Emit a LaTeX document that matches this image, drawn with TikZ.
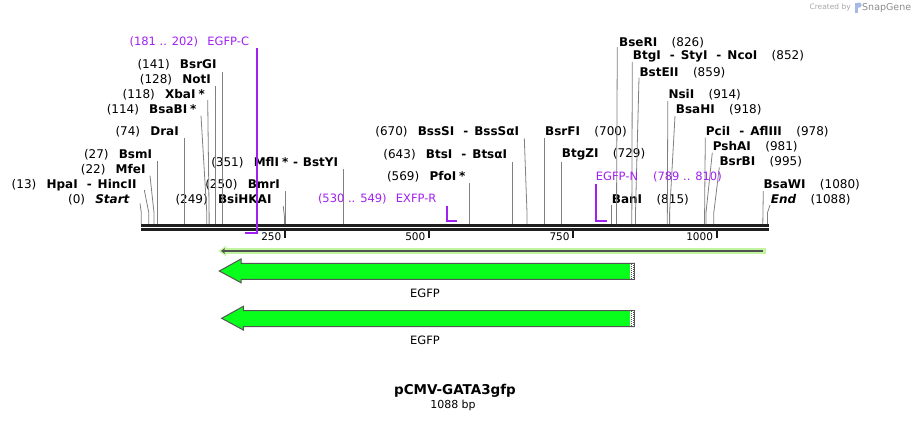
\documentclass[tikz,border=0pt]{standalone}
\usepackage{fontspec}
\setmainfont{DejaVu Sans}
\usetikzlibrary{arrows.meta}
\definecolor{primer}{HTML}{A020F0}
\definecolor{egfp}{RGB}{8,255,28}
\definecolor{lgreen}{HTML}{C2F5A0}
\definecolor{dgrey}{HTML}{555555}
\newcommand\lnum[2]{#1\hspace{0.85em}\textbf{#2}}
\newcommand\rnum[2]{\textbf{#1}\hspace{1.2em}#2}
\newcommand\sep{\hspace{0.75em}-\hspace{0.5em}}
\newcommand\starmk{\hspace{0.25em}*}
\begin{document}
\begin{tikzpicture}[x=1pt,y=-1pt,
  lbl/.style={font=\fontsize{12}{14}\selectfont, inner sep=0pt},
  lblL/.style={lbl, anchor=east},
  lblR/.style={lbl, anchor=west},
  plbl/.style={font=\fontsize{11.5}{13}\selectfont, inner sep=0pt, text=primer},
  leader/.style={draw=black!50, line width=0.8pt},
  pline/.style={draw=primer, line width=1.7pt},
  tickl/.style={font=\fontsize{10.5}{12}\selectfont, inner sep=0pt, anchor=east},
  tickm/.style={draw=black!90, line width=2pt},
  bb/.style={draw=black!88},
  feat/.style={fill=egfp, draw=dgrey, line width=1pt},
  flbl/.style={font=\fontsize{11.5}{13}\selectfont, inner sep=0pt}]
\useasboundingbox (0,0) rectangle (911,421);

% backbone
\coordinate (b0) at (141,225.3);
\coordinate (b1) at (769,225.3);
\coordinate (c0) at (141,229.6);
\coordinate (c1) at (769,229.6);
\draw[bb, line width=3.4pt] (b0) -- (b1);
\draw[bb, line width=2.4pt] (c0) -- (c1);

% ticks
\foreach \x/\t in {285/250, 429/500, 573.3/750, 716.7/1000}{
  \draw[tickm] (\x,231) -- (\x,237.5);
  \node[tickl] (t\t) at (\x-3.5,237) {\t};
}

% ---------- left-side enzyme labels
\node[lblL] (nStart) at (130,200) {(0)\hspace{0.85em}\textbf{\textit{Start}}};
\node[lblL] (nHpa) at (136.7,185) {\lnum{(13)}{HpaI\sep HincII}};
\node[lblL] (nMfe) at (145.7,169.3) {\lnum{(22)}{MfeI}};
\node[lblL] (nBsm) at (152.3,155) {\lnum{(27)}{BsmI}};
\node[lblL] (nDra) at (179,131.7) {\lnum{(74)}{DraI}};
\node[lblL] (nBsaB) at (196.7,110) {\lnum{(114)}{BsaBI\starmk}};
\node[lblL] (nXba) at (205,94.3) {\lnum{(118)}{XbaI\starmk}};
\node[lblL] (nNot) at (211,80) {\lnum{(128)}{NotI}};
\node[lblL] (nBsrG) at (216.7,64.3) {\lnum{(141)}{BsrGI}};
\node[lblL] (nBsiHKA) at (271.7,200) {\lnum{(249)}{BsiHKAI}};
\node[lblL] (nBmr) at (280,185) {\lnum{(250)}{BmrI}};
\node[lblL] (nMfl) at (338.3,162.3) {\lnum{(351)}{MflI\starmk\hspace{0.4em}-\hspace{0.4em}BstYI}};
\node[lblL] (nPfo) at (465.7,176.7) {\lnum{(569)}{PfoI\starmk}};
\node[lblL] (nBts) at (507.3,154.3) {\lnum{(643)}{BtsI\sep BtsαI}};
\node[lblL] (nBssS) at (519.3,132) {\lnum{(670)}{BssSI\sep BssSαI}};

% ---------- right-side enzyme labels
\node[lblR] (nBsrF) at (545,132) {\rnum{BsrFI}{(700)}};
\node[lblR] (nBtgZ) at (561.7,154.3) {\rnum{BtgZI}{(729)}};
\node[lblR] (nBan) at (611.7,200) {\rnum{BanI}{(815)}};
\node[lblR] (nBseR) at (619,42.3) {\rnum{BseRI}{(826)}};
\node[lblR] (nBtg) at (632.7,56.7) {\rnum{BtgI\sep StyI\sep NcoI}{(852)}};
\node[lblR] (nBstE) at (639.3,72.3) {\rnum{BstEII}{(859)}};
\node[lblR] (nNsi) at (668.3,95) {\rnum{NsiI}{(914)}};
\node[lblR] (nBsaH) at (675.7,110) {\rnum{BsaHI}{(918)}};
\node[lblR] (nPci) at (705.7,131.7) {\rnum{PciI\sep AflIII}{(978)}};
\node[lblR] (nPshA) at (712.7,146.7) {\rnum{PshAI}{(981)}};
\node[lblR] (nBsrB) at (719.3,161.7) {\rnum{BsrBI}{(995)}};
\node[lblR] (nBsaW) at (763.3,185) {\rnum{BsaWI}{(1080)}};
\node[lblR] (nEnd) at (770.7,200) {\textbf{\textit{End}}\hspace{1.2em}(1088)};

% ---------- leaders (site on backbone -> label)
\draw[leader] (141.3,224) -- (141.3,212.7) -- (140,203.3);
\draw[leader] (148.8,224) -- (148.8,212.7) -- (144.3,190);
\draw[leader] (154,224) -- (154,212.7) -- (150,175.7);
\draw[leader] (157,224) -- (157,161);
\draw[leader] (184,224) -- (184,137.7);
\draw[leader] (206.8,224) -- (206.8,212.7) -- (201,115.7);
\draw[leader] (209.1,224) -- (209.1,212.7) -- (207.7,100);
\draw[leader] (215,224) -- (215,86);
\draw[leader] (222.3,224) -- (222.3,71.7);
\draw[leader] (284.4,224) -- (284.4,216) -- (283.2,206);
\draw[leader] (285.6,224) -- (285.6,191);
\draw[leader] (343,224) -- (343,169.3);
\draw[leader] (469.7,224) -- (469.7,183.3);
\draw[leader] (512.3,224) -- (512.3,161.7);
\draw[leader] (527,224) -- (527,212.7) -- (524.3,138.3);
\draw[leader] (544.3,224) -- (544.3,138.3);
\draw[leader] (561,224) -- (561,161.7);
\draw[leader] (611.7,224) -- (611.7,205);
\draw[leader] (616.5,224) -- (616.5,212.7) -- (617.3,47);
\draw[leader] (631.8,224) -- (632.3,62);
\draw[leader] (635.5,224) -- (635.5,212.7) -- (639,77.7);
\draw[leader] (667.3,224) -- (667.8,101);
\draw[leader] (669.6,224) -- (669.6,212.7) -- (675,116);
\draw[leader] (704.5,224) -- (705.3,137.7);
\draw[leader] (706,224) -- (706,212.7) -- (712.3,152.7);
\draw[leader] (713.8,224) -- (713.8,212.7) -- (719.3,167.3);
\draw[leader] (762.8,224) -- (763.3,191);
\draw[leader] (767.5,224) -- (767.5,212.7) -- (770,205);

% ---------- primers
\node[plbl, anchor=east] (pC) at (249.3,42.3) {(181 .. 202)\hspace{0.8em}EGFP-C};
\draw[pline] (257.3,48.3) -- (257.3,233.3) -- (245,233.3);
\node[plbl, anchor=east] (pR) at (436.7,199.3) {(530 .. 549)\hspace{0.8em}EXFP-R};
\draw[pline] (446.7,205.7) -- (446.7,220.7) -- (456.7,220.7);
\node[plbl, anchor=west] (pN) at (595.7,176.7) {EGFP-N\hspace{1.3em}(789 .. 810)};
\draw[pline] (595.7,184) -- (595.7,220.7) -- (606.7,220.7);

% ---------- direction arrow
\draw[draw=lgreen, line width=5.5pt] (765.7,251) -- (225,251);
\fill[lgreen] (218.3,251) -- (226,245.8) -- (226,256.2) -- cycle;
\draw[draw=black!68, line width=2pt, -{Stealth[length=4pt,width=5.5pt]}] (763.3,251) -- (221,251);

% ---------- EGFP features
\path[feat] (634.3,263.3) -- (241,263.3) -- (241,259) -- (219.3,271) -- (241,282.7) -- (241,279.3) -- (634.3,279.3) -- cycle;
\fill[white] (630,263.9) rectangle (633.8,278.7);
\draw[dgrey, line width=1pt, dash pattern=on 1pt off 1pt] (631,263.9) -- (631,278.7);
\draw[dgrey, line width=1pt, dash pattern=on 1pt off 1pt, dash phase=1pt] (633,263.9) -- (633,278.7);
\node[flbl] (f1) at (425,293.3) {EGFP};

\path[feat] (634.3,310.7) -- (243.3,310.7) -- (243.3,306.3) -- (221.7,318.3) -- (243.3,330) -- (243.3,326.7) -- (634.3,326.7) -- cycle;
\fill[white] (630,311.3) rectangle (633.8,326.1);
\draw[dgrey, line width=1pt, dash pattern=on 1pt off 1pt] (631,311.3) -- (631,326.1);
\draw[dgrey, line width=1pt, dash pattern=on 1pt off 1pt, dash phase=1pt] (633,311.3) -- (633,326.1);
\node[flbl] (f2) at (425,340) {EGFP};

% ---------- title
\node[font=\bfseries\fontsize{13.5}{16}\selectfont, inner sep=0pt] (title) at (455,390.7) {pCMV-GATA3gfp};
\node[font=\fontsize{11}{13}\selectfont, inner sep=0pt] (len) at (453,405) {1088 bp};

% ---------- watermark
\node[font=\fontsize{7.5}{9}\selectfont, text=black!35, inner sep=0pt, anchor=east] (cb) at (851,7.5) {Created by};
\fill[cyan!45!blue!35] (854.5,2.5) rectangle (857.5,13) ;
\fill[cyan!45!blue!35] (857.5,2.5) -- (859,2.5) arc[start angle=90, end angle=-90, radius=2.6pt] -- (857.5,7.7) -- cycle;
\node[font=\fontsize{9.5}{11}\selectfont, text=black!45, inner sep=0pt, anchor=west] (sg) at (862,7.5) {SnapGene};
\end{tikzpicture}
\end{document}
